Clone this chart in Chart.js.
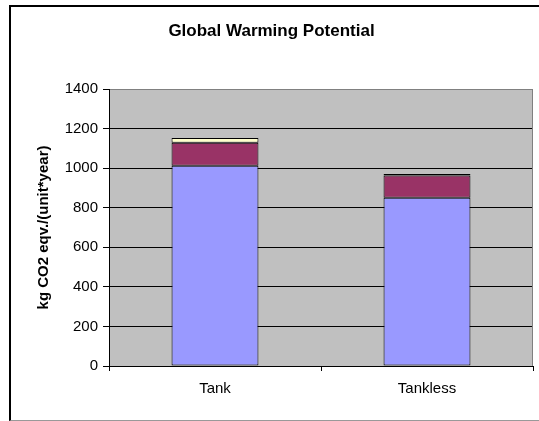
<!DOCTYPE html>
<html>
<head>
<meta charset="utf-8">
<script src="https://cdn.jsdelivr.net/npm/chart.js@4/dist/chart.umd.min.js"></script>
<style>
  html, body { margin: 0; padding: 0; background: #fff; overflow: hidden; }
  #wrap { position: relative; width: 539px; height: 421px; }
  #frame {
    position: absolute; left: 9px; top: 5px; width: 560px; height: 413px;
    border-top: 2px solid #000; border-left: 2px solid #000; border-bottom: 1px solid #999;
    pointer-events: none;
  }
  canvas { position: absolute; left: 0; top: 0; }
</style>
</head>
<body>
<div id="wrap">
  <canvas id="gwp" width="539" height="421"></canvas>
  <div id="frame"></div>
</div>
<script>
const categories = ["Tank", "Tankless"];
const seriesA = [1012, 850];
const seriesB = [116, 113];
const seriesC = [24, 8];
const yTicks = [0, 200, 400, 600, 800, 1000, 1200, 1400];

const FONT = "'Liberation Sans', Arial, sans-serif";

// grey plot background + grey right edge like Excel
const plotBg = {
  id: "plotBg",
  beforeDraw(chart) {
    const a = chart.chartArea, c = chart.ctx;
    c.save();
    c.fillStyle = "#C0C0C0";
    c.fillRect(a.left, a.top, a.right - a.left, a.bottom - a.top);
    c.restore();
  },
  afterDraw(chart) {
    const a = chart.chartArea, c = chart.ctx;
    c.save();
    c.strokeStyle = "#808080";
    c.lineWidth = 1;
    c.beginPath();
    c.moveTo(a.right - 0.5, a.top);
    c.lineTo(a.right - 0.5, a.bottom);
    c.stroke();
    c.restore();
  }
};

new Chart(document.getElementById("gwp"), {
  type: "bar",
  data: {
    labels: categories,
    datasets: [
      { data: seriesA, backgroundColor: "#9999FF" },
      { data: seriesB, backgroundColor: "#993366" },
      { data: seriesC, backgroundColor: "#FFFFCC" }
    ].map(d => Object.assign(d, {
      borderColor: "#000", borderWidth: 1, borderSkipped: false,
      categoryPercentage: 1, barPercentage: 0.41
    }))
  },
  options: {
    responsive: false,
    devicePixelRatio: 1,
    animation: false,
    layout: { padding: { left: 10, right: 6, top: 0, bottom: 0 } },
    plugins: {
      legend: { display: false },
      tooltip: { enabled: false },
      title: {
        display: true,
        text: "Global Warming Potential",
        color: "#000",
        font: { family: FONT, size: 17, weight: "bold" },
        padding: { top: 21, bottom: 47.6 }
      }
    },
    scales: {
      x: {
        stacked: true,
        offset: true,
        grid: { offset: true, drawOnChartArea: false, color: "#000", tickLength: 5 },
        border: { color: "#000" },
        ticks: { color: "#000", font: { family: FONT, size: 15 }, padding: 9 },
        afterFit: s => { s.height = 55; }
      },
      y: {
        stacked: true,
        min: 0,
        max: 1400,
        afterBuildTicks: s => { s.ticks = yTicks.map(v => ({ value: v })); },
        grid: {
          color: ctx => (ctx.tick && ctx.tick.value === 1400 ? "#808080" : "#000"),
          tickColor: "#000",
          tickLength: 6
        },
        border: { color: "#000" },
        ticks: {
          color: "#000", font: { family: FONT, size: 15 }, padding: 5,
          callback: v => String(v)
        },
        title: {
          display: true,
          text: "kg CO2 eqv./(unit*year)",
          color: "#000",
          font: { family: FONT, size: 15, weight: "bold" },
          padding: { top: 25, bottom: 0 }
        },
        afterFit: s => { s.width = 99; }
      }
    }
  },
  plugins: [plotBg]
});
</script>
</body>
</html>
